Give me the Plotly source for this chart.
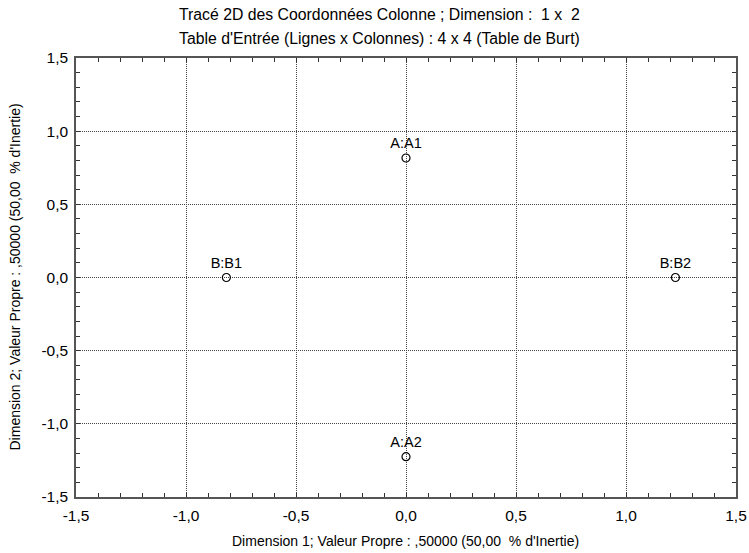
import plotly.graph_objects as go

labels = ["A:A1", "A:A2", "B:B1", "B:B2"]
dim1 = [0.0, 0.0, -0.8165, 1.2247]
dim2 = [0.8165, -1.2247, 0.0, 0.0]
tick_vals = [-1.5, -1.0, -0.5, 0.0, 0.5, 1.0, 1.5]
tick_text = ["-1,5", "-1,0", "-0,5", "0,0", "0,5", "1,0", "1,5"]

FONT = "Liberation Sans, Arial"

fig = go.Figure()
fig.add_trace(go.Scatter(
    x=dim1, y=dim2, mode="markers+text", text=labels, textposition="top center",
    textfont=dict(family=FONT, size=14.5, color="black"),
    marker=dict(symbol="circle-open", size=8, color="black", line=dict(width=1.2, color="black")),
    showlegend=False, cliponaxis=False,
))

axis_common = dict(
    range=[-1.5, 1.5], tickvals=tick_vals, ticktext=tick_text, automargin=False,
    showgrid=True, gridcolor="#444444", griddash="1px,1px", gridwidth=1,
    zeroline=False, showline=True, linecolor="#555555", linewidth=1.5, mirror="allticks",
    ticks="inside", ticklen=4, tickcolor="#333333",
    minor=dict(ticks="inside", dtick=0.1, tick0=0, ticklen=4, tickcolor="#333333", showgrid=False),
    tickfont=dict(family=FONT, size=15.5, color="black"),
)

fig.update_xaxes(**axis_common, ticklabelstandoff=4)
fig.update_yaxes(**axis_common, ticklabelstandoff=3)

fig.update_layout(
    width=749, height=553,
    margin=dict(l=76, r=13, t=58, b=56),
    plot_bgcolor="white", paper_bgcolor="white",
    font=dict(family=FONT, size=12, color="black"),
    annotations=[
        dict(text="Tracé 2D des Coordonnées Colonne ; Dimension :  1 x  2", xref="paper", yref="paper",
             x=(379 - 76) / 660, y=1 + (58 - 15) / 439, xanchor="center", yanchor="middle",
             showarrow=False, font=dict(family=FONT, size=15.8, color="black")),
        dict(text="Table d'Entrée (Lignes x Colonnes) : 4 x 4 (Table de Burt)", xref="paper", yref="paper",
             x=(379 - 76) / 660, y=1 + (58 - 38) / 439, xanchor="center", yanchor="middle",
             showarrow=False, font=dict(family=FONT, size=15.8, color="black")),
        dict(text="Dimension 1; Valeur Propre : ,50000 (50,00  % d'Inertie)", xref="paper", yref="paper",
             x=(405 - 76) / 660, y=-(541 - 497) / 439, xanchor="center", yanchor="middle",
             showarrow=False, font=dict(family=FONT, size=14, color="black")),
        dict(text="Dimension 2; Valeur Propre : ,50000 (50,00  % d'Inertie)", xref="paper", yref="paper",
             x=-(76 - 14) / 660, y=0.5, xanchor="center", yanchor="middle", textangle=-90,
             showarrow=False, font=dict(family=FONT, size=14, color="black")),
    ],
)

fig.write_html("out.html")
